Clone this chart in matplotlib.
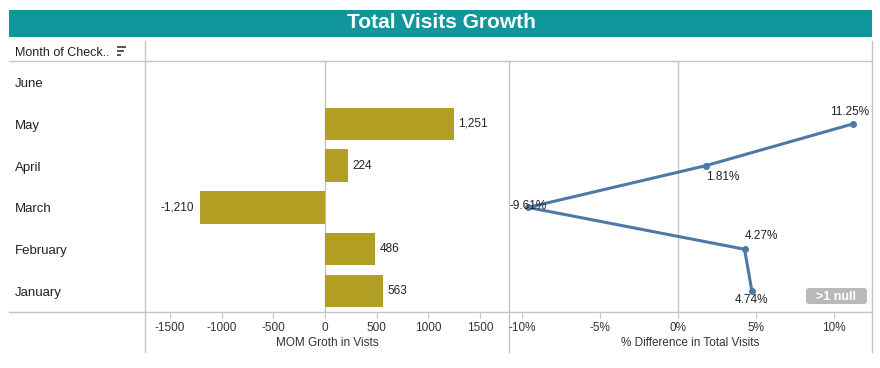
import matplotlib
matplotlib.use("Agg")
import matplotlib.pyplot as plt
from matplotlib.patches import Rectangle, FancyBboxPatch
from matplotlib.lines import Line2D

plt.rcParams['font.family'] = ['Liberation Sans', 'DejaVu Sans']

months = ["June", "May", "April", "March", "February", "January"]
mom_growth = [None, 1251, 224, -1210, 486, 563]
mom_labels = ["", "1,251", "224", "-1,210", "486", "563"]
pct_diff = [None, 11.25, 1.81, -9.61, 4.27, 4.74]
pct_labels = ["", "11.25%", "1.81%", "-9.61%", "4.27%", "4.74%"]
bar_ticks = [-1500, -1000, -500, 0, 500, 1000, 1500]
pct_ticks = [-10, -5, 0, 5, 10]
pct_ticklabels = ["-10%", "-5%", "0%", "5%", "10%"]
pct_offsets = [None, (-4, 12), (17, -11), (0, 1), (17, 13), (0, -9)]

W, H = 880, 368
fig = plt.figure(figsize=(W / 100, H / 100), dpi=100)

def px_axes(x0, y0, x1, y1):
    return fig.add_axes([x0 / W, 1 - y1 / H, (x1 - x0) / W, (y1 - y0) / H])

GRID = "#c4c4c4"
TEAL = "#11969b"
BAR = "#b39f23"
LINE = "#4e79a7"

# overlay axes in pixel coords
ov = fig.add_axes([0, 0, 1, 1], zorder=0)
ov.set_xlim(0, W)
ov.set_ylim(H, 0)
ov.axis("off")
ov.add_patch(Rectangle((9, 10), 863, 27, color=TEAL, lw=0))
ov.text(441, 22, "Total Visits Growth", color="white", fontsize=15,
        fontweight="bold", ha="center", va="center")
ov.text(15, 53, "Month of Check..", fontsize=9, ha="left", va="center", color="#222222")
for yy, x2 in [(47, 125), (51, 123), (55, 120)]:
    ov.add_line(Line2D([118, x2], [yy, yy], color="#555555", lw=1.4))
for yy in [61, 312]:
    ov.add_line(Line2D([9, 872], [yy, yy], color=GRID, lw=1))
ov.add_line(Line2D([145, 145], [41, 352], color=GRID, lw=1))
ov.add_line(Line2D([509, 509], [61, 352], color=GRID, lw=1))
ov.add_line(Line2D([872, 872], [41, 352], color=GRID, lw=1))

# row labels
for i, m in enumerate(months):
    y = 61 + (i + 0.5) * (251 / 6) + 2
    ov.text(15, y, m, fontsize=9.5, ha="left", va="center", color="#222222")

# left bar axes
ax1 = px_axes(145, 61, 509, 312)
ax1.set_xlim(-1742, 1781)
ax1.set_ylim(len(months) - 0.5, -0.5)
ax1.axvline(0, color=GRID, lw=1, zorder=1)
for i, v in enumerate(mom_growth):
    if v is None:
        continue
    ax1.barh(i, v, height=0.77, color=BAR, zorder=2)
    if v >= 0:
        ax1.annotate(mom_labels[i], (v, i), xytext=(4, 0), textcoords="offset pixels",
                     ha="left", va="center", fontsize=8.5, color="#222222")
    else:
        ax1.annotate(mom_labels[i], (v, i), xytext=(-6, 0), textcoords="offset pixels",
                     ha="right", va="center", fontsize=8.5, color="#222222")
ax1.set_xticks(bar_ticks)
ax1.set_xticklabels([str(t) for t in bar_ticks])
ax1.set_yticks([])
ax1.tick_params(axis="x", length=4, color=GRID, labelsize=8.5, labelcolor="#333333", pad=3)
ax1.set_xlabel("MOM Groth in Vists", fontsize=8.5, color="#333333", labelpad=2)
for s in ax1.spines.values():
    s.set_visible(False)
ax1.patch.set_alpha(0)

# right line axes
ax2 = px_axes(509, 61, 872, 312)
ax2.set_xlim(-10.83, 12.44)
ax2.set_ylim(len(months) - 0.5, -0.5)
ax2.axvline(0, color=GRID, lw=1, zorder=1)
xs = [v for v in pct_diff if v is not None]
ys = [i for i, v in enumerate(pct_diff) if v is not None]
ax2.plot(xs, ys, color=LINE, lw=2.2, marker="o", markersize=4, zorder=3,
         solid_capstyle="round")
for i, v in enumerate(pct_diff):
    if v is None:
        continue
    dx, dy = pct_offsets[i]
    ax2.annotate(pct_labels[i], (v, i), xytext=(dx, dy), textcoords="offset pixels",
                 ha="center", va="center", fontsize=8.5, color="#222222", zorder=4)
ax2.set_xticks(pct_ticks)
ax2.set_xticklabels(pct_ticklabels)
ax2.set_yticks([])
ax2.tick_params(axis="x", length=4, color=GRID, labelsize=8.5, labelcolor="#333333", pad=3)
ax2.set_xlabel("% Difference in Total Visits", fontsize=8.5, color="#333333", labelpad=2)
for s in ax2.spines.values():
    s.set_visible(False)
ax2.patch.set_alpha(0)

# null badge
ov2 = fig.add_axes([0, 0, 1, 1], zorder=5)
ov2.set_xlim(0, W)
ov2.set_ylim(H, 0)
ov2.axis("off")
ov2.add_patch(FancyBboxPatch((806, 288), 61, 16, boxstyle="round,pad=0,rounding_size=3",
                             color="#b9b9b9", lw=0))
ov2.text(836.5, 296.5, ">1 null", color="white", fontsize=9, fontweight="bold",
         ha="center", va="center")

fig.savefig("out.png", dpi=100)
